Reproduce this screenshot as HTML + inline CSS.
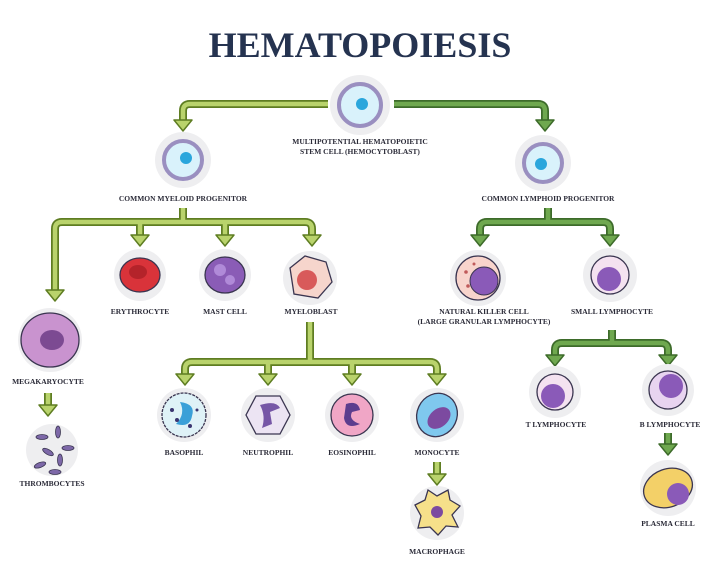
<!DOCTYPE html>
<html><head><meta charset="utf-8"><style>
html,body{margin:0;padding:0;background:#fff;}
svg{display:block}
.t{font-family:"Liberation Serif",serif;font-weight:bold;font-size:7.5px;fill:#2b2b38;text-anchor:middle}
.lo{fill:none;stroke:#5e7d22;stroke-width:8;stroke-linejoin:round}
.li{fill:none;stroke:#b9d36c;stroke-width:4.5;stroke-linejoin:round}
.ro{fill:none;stroke:#3d6b2a;stroke-width:8;stroke-linejoin:round}
.ri{fill:none;stroke:#6fa84f;stroke-width:4.5;stroke-linejoin:round}
.la{fill:#b9d36c;stroke:#5e7d22;stroke-width:1.5;stroke-linejoin:round}
.ra{fill:#6fa84f;stroke:#3d6b2a;stroke-width:1.5;stroke-linejoin:round}
.h{fill:#eeeef0}
.o{stroke:#3a3550;stroke-width:1.3}
</style></head><body>
<svg width="720" height="576" viewBox="0 0 720 576" xmlns="http://www.w3.org/2000/svg">
<text x="360" y="57" text-anchor="middle" font-family="Liberation Serif,serif" font-weight="bold" font-size="36" fill="#253350">HEMATOPOIESIS</text>

<!-- connectors left -->
<path class="lo" d="M328 104 H190 Q183 104 183 111 V120"/><path class="li" d="M328 104 H190 Q183 104 183 111 V120"/>
<polygon class="la" points="174,120 192,120 183,131"/>
<path class="lo" d="M183 208 V222 M55 292 V229 Q55 222 62 222 H305 Q312 222 312 229 V235 M140 222 V235 M225 222 V235"/>
<path class="li" d="M183 208 V222 M55 292 V229 Q55 222 62 222 H305 Q312 222 312 229 V235 M140 222 V235 M225 222 V235"/>
<polygon class="la" points="131,235 149,235 140,246"/><polygon class="la" points="216,235 234,235 225,246"/><polygon class="la" points="303,235 321,235 312,246"/><polygon class="la" points="46,290 64,290 55,301"/>
<path class="lo" d="M48 393 V405"/><path class="li" d="M48 393 V405"/><polygon class="la" points="39,405 57,405 48,416"/>
<path class="lo" d="M310 322 V362 M185 374 V369 Q185 362 192 362 H430 Q437 362 437 369 V374 M268 362 V374 M352 362 V374"/>
<path class="li" d="M310 322 V362 M185 374 V369 Q185 362 192 362 H430 Q437 362 437 369 V374 M268 362 V374 M352 362 V374"/>
<polygon class="la" points="176,374 194,374 185,385"/><polygon class="la" points="259,374 277,374 268,385"/><polygon class="la" points="343,374 361,374 352,385"/><polygon class="la" points="428,374 446,374 437,385"/>
<path class="lo" d="M437 462 V474"/><path class="li" d="M437 462 V474"/><polygon class="la" points="428,474 446,474 437,485"/>
<!-- connectors right -->
<path class="ro" d="M394 104 H538 Q545 104 545 111 V120"/><path class="ri" d="M394 104 H538 Q545 104 545 111 V120"/>
<polygon class="ra" points="536,120 554,120 545,131"/>
<path class="ro" d="M548 208 V222 M480 235 V229 Q480 222 487 222 H603 Q610 222 610 229 V235"/>
<path class="ri" d="M548 208 V222 M480 235 V229 Q480 222 487 222 H603 Q610 222 610 229 V235"/>
<polygon class="ra" points="471,235 489,235 480,246"/><polygon class="ra" points="601,235 619,235 610,246"/>
<path class="ro" d="M612 330 V343 M555 355 V350 Q555 343 562 343 H661 Q668 343 668 350 V355"/>
<path class="ri" d="M612 330 V343 M555 355 V350 Q555 343 562 343 H661 Q668 343 668 350 V355"/>
<polygon class="ra" points="546,355 564,355 555,366"/><polygon class="ra" points="659,355 677,355 668,366"/>
<path class="ro" d="M668 433 V444"/><path class="ri" d="M668 433 V444"/><polygon class="ra" points="659,444 677,444 668,455"/>

<!-- cells -->
<circle class="h" cx="360" cy="105" r="30"/><circle cx="360" cy="105" r="21" fill="#d9f2fb" stroke="#9a8fc0" stroke-width="4"/><circle cx="362" cy="104" r="6" fill="#2aa6dc"/>
<circle class="h" cx="183" cy="160" r="28"/><circle cx="183" cy="160" r="19" fill="#d9f2fb" stroke="#9a8fc0" stroke-width="4"/><circle cx="186" cy="158" r="6" fill="#2aa6dc"/>
<circle class="h" cx="543" cy="163" r="28"/><circle cx="543" cy="163" r="19" fill="#d9f2fb" stroke="#9a8fc0" stroke-width="4"/><circle cx="541" cy="164" r="6" fill="#2aa6dc"/>

<circle class="h" cx="140" cy="275" r="26"/><ellipse cx="140" cy="275" rx="20" ry="17" fill="#d9333a" class="o"/><ellipse cx="138" cy="272" rx="9" ry="7" fill="#b4232a"/>
<circle class="h" cx="225" cy="275" r="26"/><ellipse cx="225" cy="275" rx="20" ry="18" fill="#8a5cb6" class="o"/><circle cx="220" cy="270" r="6" fill="#b08ad8"/><circle cx="230" cy="280" r="5" fill="#b08ad8"/>
<circle class="h" cx="310" cy="278" r="27"/><path d="M290 268 L305 256 L326 262 L332 282 L318 298 L294 294 Z" fill="#f6d5cc" class="o"/><circle cx="307" cy="280" r="10" fill="#d85a5a"/>

<circle class="h" cx="50" cy="340" r="32"/><ellipse cx="50" cy="340" rx="29" ry="27" fill="#c993cf" class="o"/><ellipse cx="52" cy="340" rx="12" ry="10" fill="#7c4a92"/>
<circle class="h" cx="52" cy="450" r="26"/>
<g fill="#7d68a8" stroke="#3a3550" stroke-width="0.8"><ellipse cx="42" cy="437" rx="6" ry="2.5"/><ellipse cx="58" cy="432" rx="2.5" ry="6"/><ellipse cx="48" cy="452" rx="6" ry="2.5" transform="rotate(30 48 452)"/><ellipse cx="68" cy="448" rx="6" ry="2.5"/><ellipse cx="60" cy="460" rx="2.5" ry="6"/><ellipse cx="40" cy="465" rx="6" ry="2.5" transform="rotate(-20 40 465)"/><ellipse cx="55" cy="472" rx="6" ry="2.5"/></g>

<circle class="h" cx="184" cy="415" r="27"/><circle cx="184" cy="415" r="22" fill="#dff2f7" stroke="#3a3550" stroke-width="1.3" stroke-dasharray="3 1"/><path d="M180 402 Q196 404 192 416 Q190 428 176 424 Q186 414 180 402Z" fill="#3aa0d8"/><g fill="#3a3570"><circle cx="172" cy="410" r="2"/><circle cx="177" cy="420" r="2"/><circle cx="190" cy="426" r="2"/><circle cx="197" cy="410" r="1.5"/></g>
<circle class="h" cx="268" cy="415" r="27"/><path d="M256 396 L280 396 L290 415 L280 434 L256 434 L246 415 Z" fill="#ece4f3" class="o"/><path d="M260 405 Q276 400 280 408 L270 412 L272 424 L262 428 Q266 416 260 405Z" fill="#7656a6"/>
<circle class="h" cx="352" cy="415" r="27"/><circle cx="352" cy="415" r="21" fill="#f0a6c6" class="o"/><path d="M346 404 Q358 400 360 410 L352 412 Q348 420 360 424 Q346 430 344 418Z" fill="#5b3d8e"/>
<circle class="h" cx="437" cy="415" r="27"/><ellipse cx="437" cy="415" rx="20" ry="22" fill="#7fc8ee" class="o" transform="rotate(25 437 415)"/><ellipse cx="439" cy="418" rx="13" ry="9" fill="#7c4aa0" transform="rotate(-40 439 418)"/>
<circle class="h" cx="437" cy="513" r="27"/><path d="M415 505 L425 500 L428 490 L437 496 L448 490 L450 500 L460 506 L452 515 L458 527 L446 526 L438 535 L430 527 L418 528 L421 516 Z" fill="#f6e08a" class="o"/><circle cx="437" cy="512" r="6" fill="#7c4aa0"/>

<circle class="h" cx="478" cy="278" r="28"/><circle cx="478" cy="278" r="22" fill="#f8d4cc" class="o"/><circle cx="484" cy="281" r="14" fill="#8a5ab8" stroke="#3a3550"/><g fill="#c05a5a"><circle cx="466" cy="272" r="1.8"/><circle cx="468" cy="286" r="1.8"/><circle cx="474" cy="264" r="1.5"/></g>
<circle class="h" cx="610" cy="275" r="27"/><circle cx="610" cy="275" r="19" fill="#f4e2f0" class="o"/><circle cx="609" cy="279" r="12" fill="#8a5ab8"/>
<circle class="h" cx="555" cy="392" r="26"/><circle cx="555" cy="392" r="18" fill="#f4e2f0" class="o"/><circle cx="553" cy="396" r="12" fill="#8a5ab8"/>
<circle class="h" cx="668" cy="390" r="26"/><circle cx="668" cy="390" r="19" fill="#e8d4f0" class="o"/><circle cx="671" cy="386" r="12" fill="#8a5ab8"/>
<circle class="h" cx="668" cy="488" r="28"/><ellipse cx="668" cy="488" rx="25" ry="19" fill="#f3d068" class="o" transform="rotate(-20 668 488)"/><circle cx="678" cy="494" r="11" fill="#8a5ab8"/>

<!-- labels -->
<text class="t" x="360" y="144">MULTIPOTENTIAL HEMATOPOIETIC</text>
<text class="t" x="360" y="154">STEM CELL (HEMOCYTOBLAST)</text>
<text class="t" x="183" y="201">COMMON MYELOID PROGENITOR</text>
<text class="t" x="548" y="201">COMMON LYMPHOID PROGENITOR</text>
<text class="t" x="140" y="314">ERYTHROCYTE</text>
<text class="t" x="225" y="314">MAST CELL</text>
<text class="t" x="311" y="314">MYELOBLAST</text>
<text class="t" x="48" y="384">MEGAKARYOCYTE</text>
<text class="t" x="52" y="486">THROMBOCYTES</text>
<text class="t" x="184" y="455">BASOPHIL</text>
<text class="t" x="268" y="455">NEUTROPHIL</text>
<text class="t" x="352" y="455">EOSINOPHIL</text>
<text class="t" x="437" y="455">MONOCYTE</text>
<text class="t" x="437" y="554">MACROPHAGE</text>
<text class="t" x="484" y="314">NATURAL KILLER CELL</text>
<text class="t" x="484" y="324">(LARGE GRANULAR LYMPHOCYTE)</text>
<text class="t" x="612" y="314">SMALL LYMPHOCYTE</text>
<text class="t" x="556" y="427">T LYMPHOCYTE</text>
<text class="t" x="670" y="427">B LYMPHOCYTE</text>
<text class="t" x="668" y="526">PLASMA CELL</text>
</svg>
</body></html>
